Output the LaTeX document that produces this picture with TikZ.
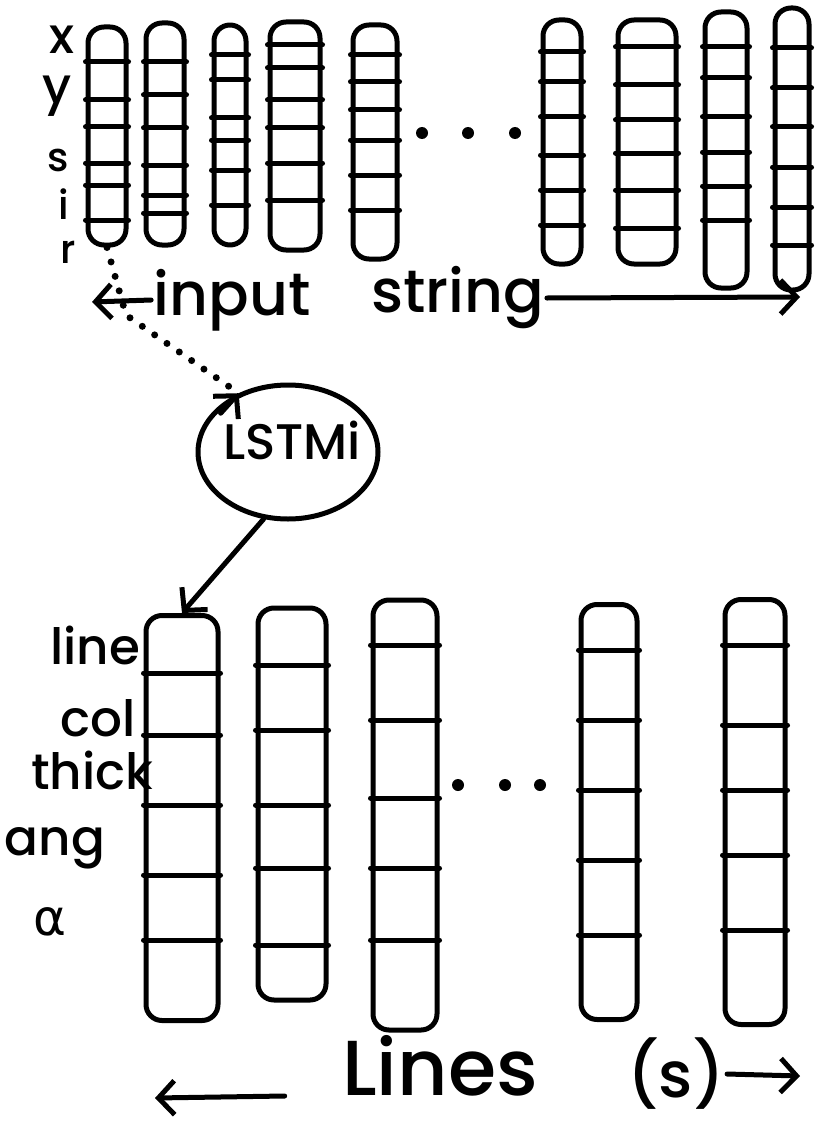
\documentclass[tikz,border=0pt]{standalone}
\usepackage{fontspec}
\setmainfont{Poppins}[UprightFont=* Medium]
\newfontfamily\greekfont{DejaVu Sans}
\usetikzlibrary{arrows.meta,shapes.geometric}
\begin{document}
\begin{tikzpicture}[x=1pt,y=-1pt,line width=5pt,line cap=round,line join=round,
    bar/.style={draw,rectangle,rounded corners=16pt,inner sep=0pt},
    lab/.style={inner sep=0pt,font=\fontsize{50}{50}\selectfont},
    small/.style={inner sep=0pt,font=\fontsize{40}{40}\selectfont},
    big/.style={inner sep=0pt,font=\fontsize{60}{60}\selectfont},
    hand/.style={-{Straight Barb[length=16pt,width=34pt,line width=5pt]}},
    dotline/.style={dash pattern=on 0pt off 15pt,line width=7pt}]
  \useasboundingbox (0,0) rectangle (818,1129);
  % input bars
  \node[bar,minimum width=38pt,minimum height=218pt] (t1) at (107,136) {};
  \node[bar,minimum width=38pt,minimum height=222pt] (t2) at (165,134) {};
  \node[bar,minimum width=32pt,minimum height=220pt] (t3) at (230,135) {};
  \node[bar,minimum width=50pt,minimum height=228pt] (t4) at (295,136) {};
  \node[bar,minimum width=44pt,minimum height=234pt] (t5) at (375,142) {};
  \node[bar,minimum width=38pt,minimum height=244pt] (t6) at (562,142) {};
  \node[bar,minimum width=58pt,minimum height=244pt] (t7) at (647,142) {};
  \node[bar,minimum width=42pt,minimum height=276pt] (t8) at (726,150) {};
  \node[bar,minimum width=34pt,minimum height=282pt] (t9) at (792,149) {};
  \foreach \y in {62,100,127,163,185,220} \draw (t1.west |- 0,\y) -- (t1.east |- 0,\y);
  \foreach \y in {62,95,128,165,195,213} \draw (t2.west |- 0,\y) -- (t2.east |- 0,\y);
  \foreach \y in {55,80,118,140,170,205} \draw (t3.west |- 0,\y) -- (t3.east |- 0,\y);
  \foreach \y in {45,68,100,128,163,200} \draw (t4.west |- 0,\y) -- (t4.east |- 0,\y);
  \foreach \y in {55,82,110,140,175,210} \draw (t5.west |- 0,\y) -- (t5.east |- 0,\y);
  \foreach \y in {52,82,117,155,190,225} \draw (t6.west |- 0,\y) -- (t6.east |- 0,\y);
  \foreach \y in {47,85,120,153,190,228} \draw (t7.west |- 0,\y) -- (t7.east |- 0,\y);
  \foreach \y in {47,78,117,152,186,220} \draw (t8.west |- 0,\y) -- (t8.east |- 0,\y);
  \foreach \y in {48,88,127,167,207,245} \draw (t9.west |- 0,\y) -- (t9.east |- 0,\y);
  \foreach \x in {422,468,515} \fill (\x,133) circle (6pt);
  % input labels
  \node[lab] (lx) at (62,40) {x};
  \node[lab] (ly) at (57,96) {y};
  \node[small] (ls) at (58,160) {s};
  \node[small] (li) at (64,204) {i};
  \node[small] (lr) at (68,252) {r};
  \node[big] (input) at (232,300) {input};
  \node[big] (string) at (458,298) {string};
  \coordinate (inL) at (92,302);
  \coordinate (inR) at (800,297);
  \draw[hand] (input.west) -- (inL);
  \draw[hand] (string.east) -- (inR);
  % lstm
  \node[draw,ellipse,minimum width=180pt,minimum height=134pt,inner sep=0pt] (lstm) at (288,452) {};
  \node[inner sep=0pt,font=\fontsize{50}{50}\selectfont] (lstmtxt) at (292,440) {LSTMi};
  \coordinate (dbend) at (126,315);
  \draw[dotline] (t1.south) -- (dbend) -- (lstm.130);
  \draw[hand] ([xshift=-18pt,yshift=-20pt]lstm.130) -- (lstm.130);
  % output bars
  \node[bar,minimum width=72pt,minimum height=405pt] (b1) at (182,818) {};
  \node[bar,minimum width=68pt,minimum height=392pt] (b2) at (292,804) {};
  \node[bar,minimum width=64pt,minimum height=430pt] (b3) at (405,815) {};
  \node[bar,minimum width=56pt,minimum height=415pt] (b4) at (609,812) {};
  \node[bar,minimum width=60pt,minimum height=425pt] (b5) at (755,812) {};
  \foreach \y in {673,735,805,875,940} \draw (b1.west |- 0,\y) -- (b1.east |- 0,\y);
  \foreach \y in {665,730,805,868,945} \draw (b2.west |- 0,\y) -- (b2.east |- 0,\y);
  \foreach \y in {645,720,798,868,940} \draw (b3.west |- 0,\y) -- (b3.east |- 0,\y);
  \foreach \y in {650,720,790,860,935} \draw (b4.west |- 0,\y) -- (b4.east |- 0,\y);
  \foreach \y in {645,725,790,855,930} \draw (b5.west |- 0,\y) -- (b5.east |- 0,\y);
  \foreach \x in {458,505,540} \fill (\x,785) circle (6pt);
  \draw[hand] (lstm.250) -- (b1.north);
  % output labels
  \node[lab] (lline) at (95,645) {line};
  \node[lab] (lcol) at (98,718) {col};
  \node[lab] (lthick) at (92,770) {thick};
  \node[lab] (lang) at (55,848) {ang};
  \node[lab,font=\greekfont\fontsize{50}{50}\selectfont] (lalpha) at (50,922) {α};
  \node[inner sep=0pt,font=\fontsize{78}{78}\selectfont] (lines) at (440,1066) {Lines};
  \node[inner sep=0pt,font=\fontsize{64}{64}\selectfont] (lsub) at (676,1074) {(s)};
  \coordinate (outL) at (155,1098);
  \coordinate (outR) at (800,1076);
  \draw[hand] ([xshift=-55pt,yshift=-30pt]lines.west) -- (outL);
  \draw[hand] (lsub.east) -- (outR);
\end{tikzpicture}
\end{document}
